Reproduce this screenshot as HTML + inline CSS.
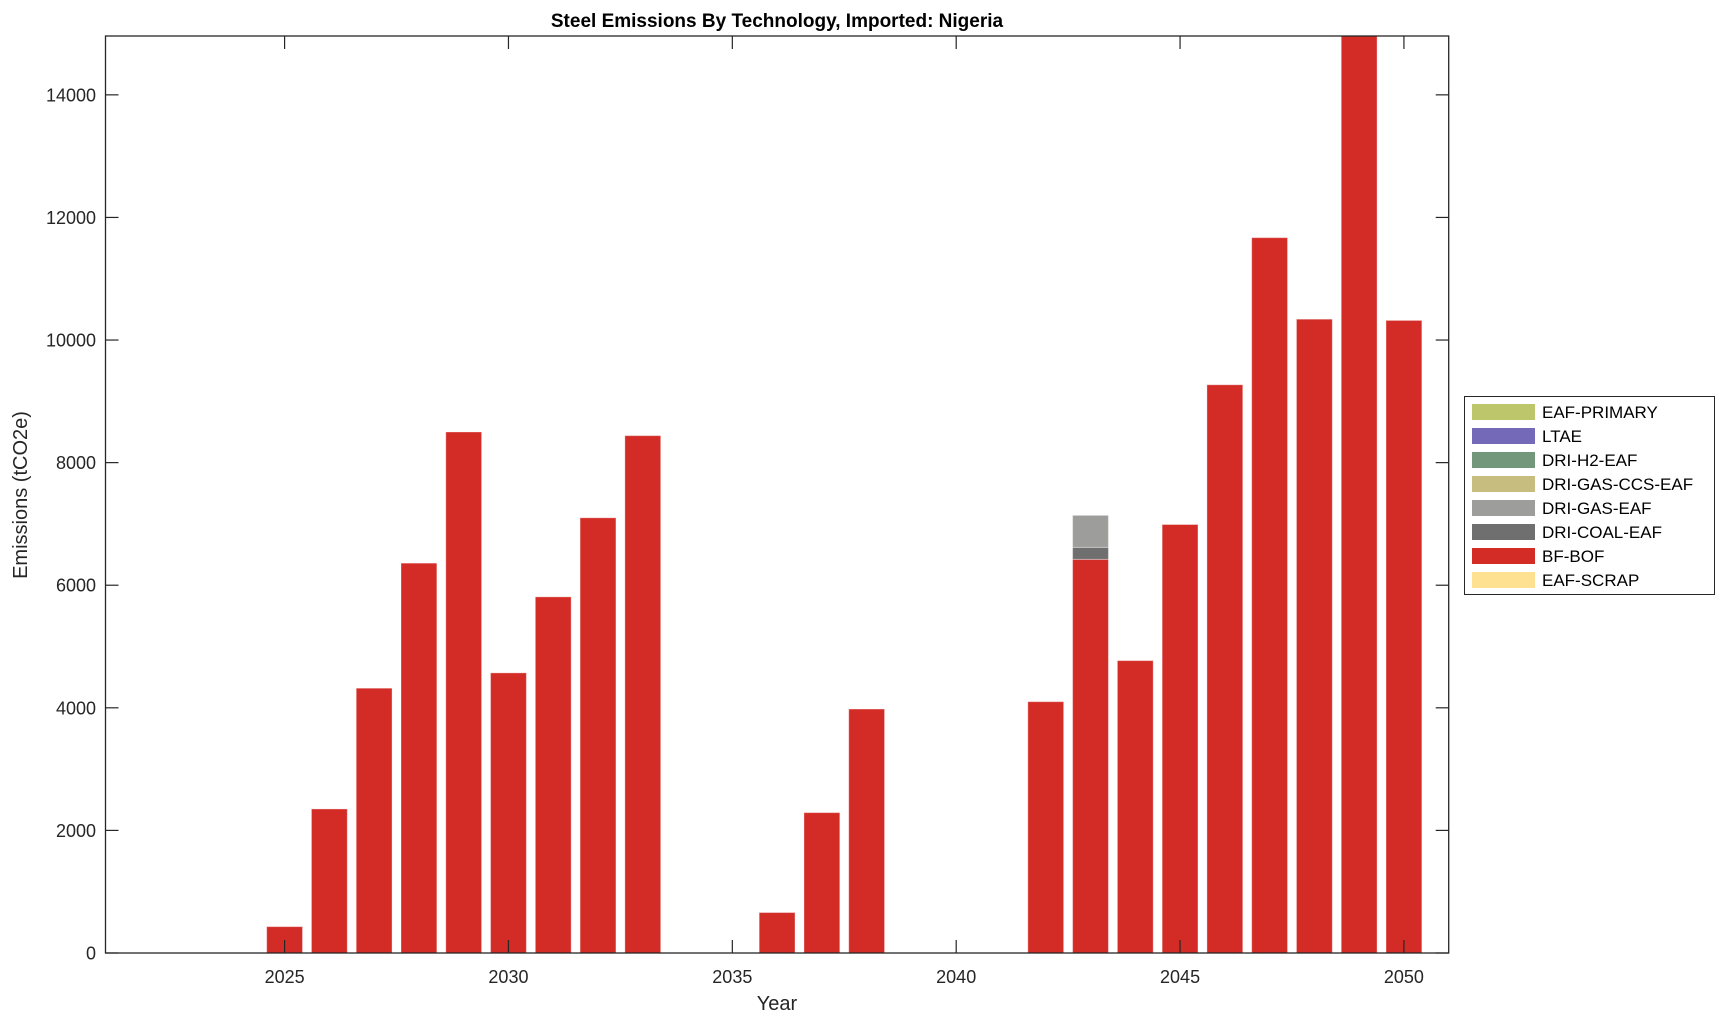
<!DOCTYPE html>
<html><head><meta charset="utf-8"><style>
body{margin:0;background:#fff;}
svg{display:block;font-family:"Liberation Sans",Arial,sans-serif;}
</style></head><body>
<svg id="chart" width="1725" height="1021">
<text x="777" y="27" text-anchor="middle" font-size="19" font-weight="bold" fill="#000">Steel Emissions By Technology, Imported: Nigeria</text>
<text x="777" y="1010" text-anchor="middle" font-size="20" fill="#262626">Year</text>
<text transform="translate(27,495) rotate(-90)" text-anchor="middle" font-size="20" fill="#262626">Emissions (tCO2e)</text>
<g id="bars"></g>
<g id="axes"></g>
<g id="legend"></g>
</svg>
<script>
const years=[2025,2026,2027,2028,2029,2030,2031,2032,2033,2036,2037,2038,2042,2043,2044,2045,2046,2047,2048,2049,2050];
const bfBof=[430,2350,4320,6360,8500,4570,5810,7100,8440,660,2290,3980,4100,6422,4770,6990,9270,11670,10340,14960,10320];
const driCoal=[0,0,0,0,0,0,0,0,0,0,0,0,0,196,0,0,0,0,0,0,0];
const driGas=[0,0,0,0,0,0,0,0,0,0,0,0,0,522,0,0,0,0,0,0,0];
const xTicks=[2025,2030,2035,2040,2045,2050];
const yTicks=[0,2000,4000,6000,8000,10000,12000,14000];
const legendLabels=["EAF-PRIMARY","LTAE","DRI-H2-EAF","DRI-GAS-CCS-EAF","DRI-GAS-EAF","DRI-COAL-EAF","BF-BOF","EAF-SCRAP"];
const legendColors=["#bdc66b","#7369b8","#73977b","#c6bd7f","#9d9d9b","#6f6f6f","#d32b25","#fee291"];

const L=105.5,R=1448.7,T=36,B=953,X0=2021,X1=2051,Y1=14960;
const sx=v=>L+(v-X0)/(X1-X0)*(R-L);
const sy=v=>B-v/Y1*(B-T);
const NS="http://www.w3.org/2000/svg";
function mk(tag,attrs,parent){const e=document.createElementNS(NS,tag);for(const k in attrs)e.setAttribute(k,attrs[k]);parent.appendChild(e);return e;}
const gb=document.getElementById('bars'),ga=document.getElementById('axes'),gl=document.getElementById('legend');
const bw=0.8*(R-L)/(X1-X0);
const series=[[bfBof,"#d32b25","bf-bof"],[driCoal,"#6f6f6f","dri-coal-eaf"],[driGas,"#9d9d9b","dri-gas-eaf"]];
years.forEach((yr,i)=>{
  let base=0;
  series.forEach(([arr,col,nm])=>{
    const v=arr[i];if(v<=0)return;
    const y0=sy(base),y1=sy(Math.min(base+v,Y1));
    const r=mk('rect',{x:sx(yr)-bw/2,y:y1,width:bw,height:y0-y1,fill:col,stroke:"#fff","stroke-opacity":0.35,"stroke-width":1},gb);
    
    
    base+=v;
  });
});
const box=mk('rect',{x:L,y:T,width:R-L,height:B-T,fill:"none",stroke:"#262626","stroke-width":1.3},ga);


xTicks.forEach(t=>{
  const x=sx(t);
  mk('line',{x1:x,x2:x,y1:B,y2:B-13,stroke:"#262626","stroke-width":1.2},ga);
  mk('line',{x1:x,x2:x,y1:T,y2:T+13,stroke:"#262626","stroke-width":1.2},ga);
  const tx=mk('text',{x:x,y:983,"text-anchor":"middle","font-size":18,fill:"#262626"},ga);
  tx.textContent=t;
  
  
});
yTicks.forEach(t=>{
  const y=sy(t);
  mk('line',{x1:L,x2:L+13,y1:y,y2:y,stroke:"#262626","stroke-width":1.2},ga);
  mk('line',{x1:R,x2:R-13,y1:y,y2:y,stroke:"#262626","stroke-width":1.2},ga);
  const tx=mk('text',{x:96,y:y+6.5,"text-anchor":"end","font-size":18,fill:"#262626"},ga);
  tx.textContent=t;
  
  
});
const lb=mk('rect',{x:1464.5,y:396.5,width:250,height:198,fill:"#fff",stroke:"#262626","stroke-width":1},gl);


legendLabels.forEach((lab,i)=>{
  const cy=412+i*24;
  const g=mk('g',{},gl);
  
  
  mk('rect',{x:1472,y:cy-8,width:63,height:16,fill:legendColors[i]},g);
  const tx=mk('text',{x:1542,y:cy+6,"font-size":17,fill:"#000"},g);
  tx.textContent=lab;
});
</script>
</body></html>
